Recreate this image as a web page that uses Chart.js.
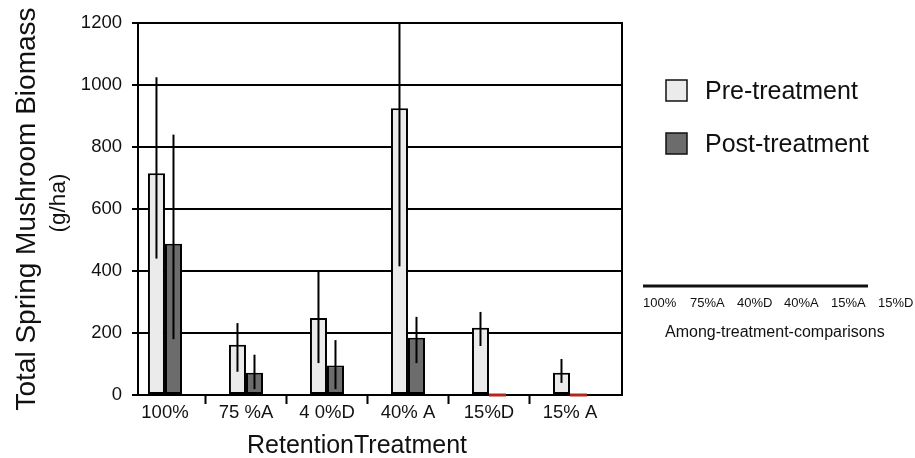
<!DOCTYPE html>
<html>
<head>
<meta charset="utf-8">
<script src="https://cdn.jsdelivr.net/npm/chart.js@4"></script>
<style>
  html, body { margin: 0; padding: 0; background: #fff; }
  #wrap { width: 915px; height: 458px; }
</style>
</head>
<body>
<div id="wrap"><canvas id="bar-chart"></canvas></div>
<script>
// values (g/ha)
const treatments = ['100%', '75 %A', '4 0%D', '40% A', '15%D', '15% A'];
const preValues  = [715, 162, 248, 925, 217, 72];
const preLow     = [440, 75, 103, 415, 158, 39];
const preHigh    = [1025, 232, 400, 1200, 268, 116];
const postValues = [488, 72, 95, 185, 0, 0];
const postLow    = [180, 19, 19, 103, null, null];
const postHigh   = [840, 130, 177, 252, null, null];
const yTicks     = [0, 200, 400, 600, 800, 1000, 1200];
const comparisonLabels = ['100%', '75%A', '40%D', '40%A', '15%A', '15%D'];

const FONT = "'Liberation Sans', Arial, Helvetica, sans-serif";
Chart.defaults.font.family = FONT;
Chart.defaults.color = '#111';

const points = vals => vals.map((v, i) => ({ x: i, y: v }));
const edge = ctx => (ctx.raw && ctx.raw.y === 0) ? 0 : 2;

// error bars, zero marks, legend and the loose text around the plot
const extras = {
  id: 'extras',
  afterDatasetsDraw(chart) {
    const ctx = chart.ctx, ys = chart.scales.y;
    ctx.save();
    [[preLow, preHigh], [postLow, postHigh]].forEach(([lo, hi], d) => {
      chart.getDatasetMeta(d).data.forEach((bar, i) => {
        if (lo[i] == null) {
          ctx.strokeStyle = '#b3261e';
          ctx.lineWidth = 3;
          ctx.beginPath();
          ctx.moveTo(bar.x - bar.width / 2, bar.base);
          ctx.lineTo(bar.x + bar.width / 2, bar.base);
          ctx.stroke();
          return;
        }
        ctx.strokeStyle = '#000';
        ctx.lineWidth = 2;
        ctx.beginPath();
        ctx.moveTo(bar.x, ys.getPixelForValue(lo[i]));
        ctx.lineTo(bar.x, ys.getPixelForValue(hi[i]));
        ctx.stroke();
      });
    });
    ctx.restore();
  },
  afterDraw(chart) {
    const ctx = chart.ctx;
    ctx.save();
    ctx.fillStyle = '#111';
    ctx.textBaseline = 'middle';

    ctx.save();
    ctx.translate(59, 203);
    ctx.rotate(-Math.PI / 2);
    ctx.textAlign = 'center';
    ctx.font = '22.5px ' + FONT;
    ctx.fillText('(g/ha)', 0, 0);
    ctx.restore();

    ctx.textAlign = 'center';
    ctx.font = '25px ' + FONT;
    ctx.fillText('RetentionTreatment', 357, 446);

    // legend
    ctx.textAlign = 'left';
    ctx.font = '25px ' + FONT;
    chart.data.datasets.forEach((ds, i) => {
      const cy = 91 + i * 53;
      ctx.fillStyle = ds.backgroundColor;
      ctx.fillRect(666, cy - 11, 21, 21);
      ctx.strokeStyle = '#111';
      ctx.lineWidth = 1.5;
      ctx.strokeRect(666, cy - 11, 21, 21);
      ctx.fillStyle = '#111';
      ctx.fillText(ds.label, 705, cy + 1);
    });

    ctx.strokeStyle = '#111';
    ctx.lineWidth = 3;
    ctx.beginPath();
    ctx.moveTo(643, 286);
    ctx.lineTo(868, 286);
    ctx.stroke();

    ctx.font = '13px ' + FONT;
    comparisonLabels.forEach((t, i) => ctx.fillText(t, 643 + i * 47, 303));

    ctx.font = '16px ' + FONT;
    ctx.fillText('Among-treatment-comparisons', 665, 333);
    ctx.restore();
  }
};

new Chart(document.getElementById('bar-chart'), {
  type: 'bar',
  data: {
    datasets: [{
      label: 'Pre-treatment',
      data: points(preValues),
      backgroundColor: '#ebebeb',
      borderColor: '#000',
      borderWidth: edge,
      borderSkipped: false,
      categoryPercentage: 0.42,
      barPercentage: 1.0
    }, {
      label: 'Post-treatment',
      data: points(postValues),
      backgroundColor: '#6c6c6c',
      borderColor: '#000',
      borderWidth: edge,
      borderSkipped: false,
      categoryPercentage: 0.42,
      barPercentage: 1.0
    }]
  },
  options: {
    responsive: true,
    maintainAspectRatio: false,
    animation: false,
    layout: { padding: { left: 0, top: 23, right: 293, bottom: 0 } },
    plugins: {
      tooltip: { enabled: false },
      legend: { display: false }
    },
    scales: {
      x: {
        type: 'linear',
        offset: false,
        min: -0.333,
        max: 5.642,
        afterBuildTicks: s => { s.ticks = treatments.map((t, i) => ({ value: i })); },
        afterFit: s => { s.height = 63; },
        ticks: {
          callback: v => treatments[v],
          padding: 0,
          color: '#111',
          font: { size: 18.5, lineHeight: 1 }
        },
        grid: {
          offset: true,
          drawOnChartArea: false,
          tickLength: 9,
          tickWidth: 2,
          tickColor: c => c.tick ? '#000' : 'rgba(0,0,0,0)'
        },
        border: { display: true, color: '#000', width: 2 }
      },
      y: {
        min: 0,
        max: 1200,
        afterBuildTicks: s => { s.ticks = yTicks.map(v => ({ value: v })); },
        afterFit: s => { s.width = 138; },
        ticks: {
          callback: v => String(v),
          padding: 10,
          color: '#111',
          font: { size: 18.5 }
        },
        grid: { color: '#000', lineWidth: 2, tickLength: 6 },
        border: { display: true, color: '#000', width: 2 },
        title: {
          display: true,
          text: 'Total Spring Mushroom Biomass',
          color: '#111',
          font: { size: 28, lineHeight: 1 },
          padding: { top: 13, bottom: 0 }
        }
      },
      yr: {
        type: 'linear',
        position: 'right',
        min: 0,
        max: 1200,
        afterFit: s => { s.width = 0; },
        ticks: { display: false },
        grid: { drawOnChartArea: false, drawTicks: false },
        border: { display: true, color: '#000', width: 2 }
      }
    }
  },
  plugins: [extras]
});
</script>
</body>
</html>
